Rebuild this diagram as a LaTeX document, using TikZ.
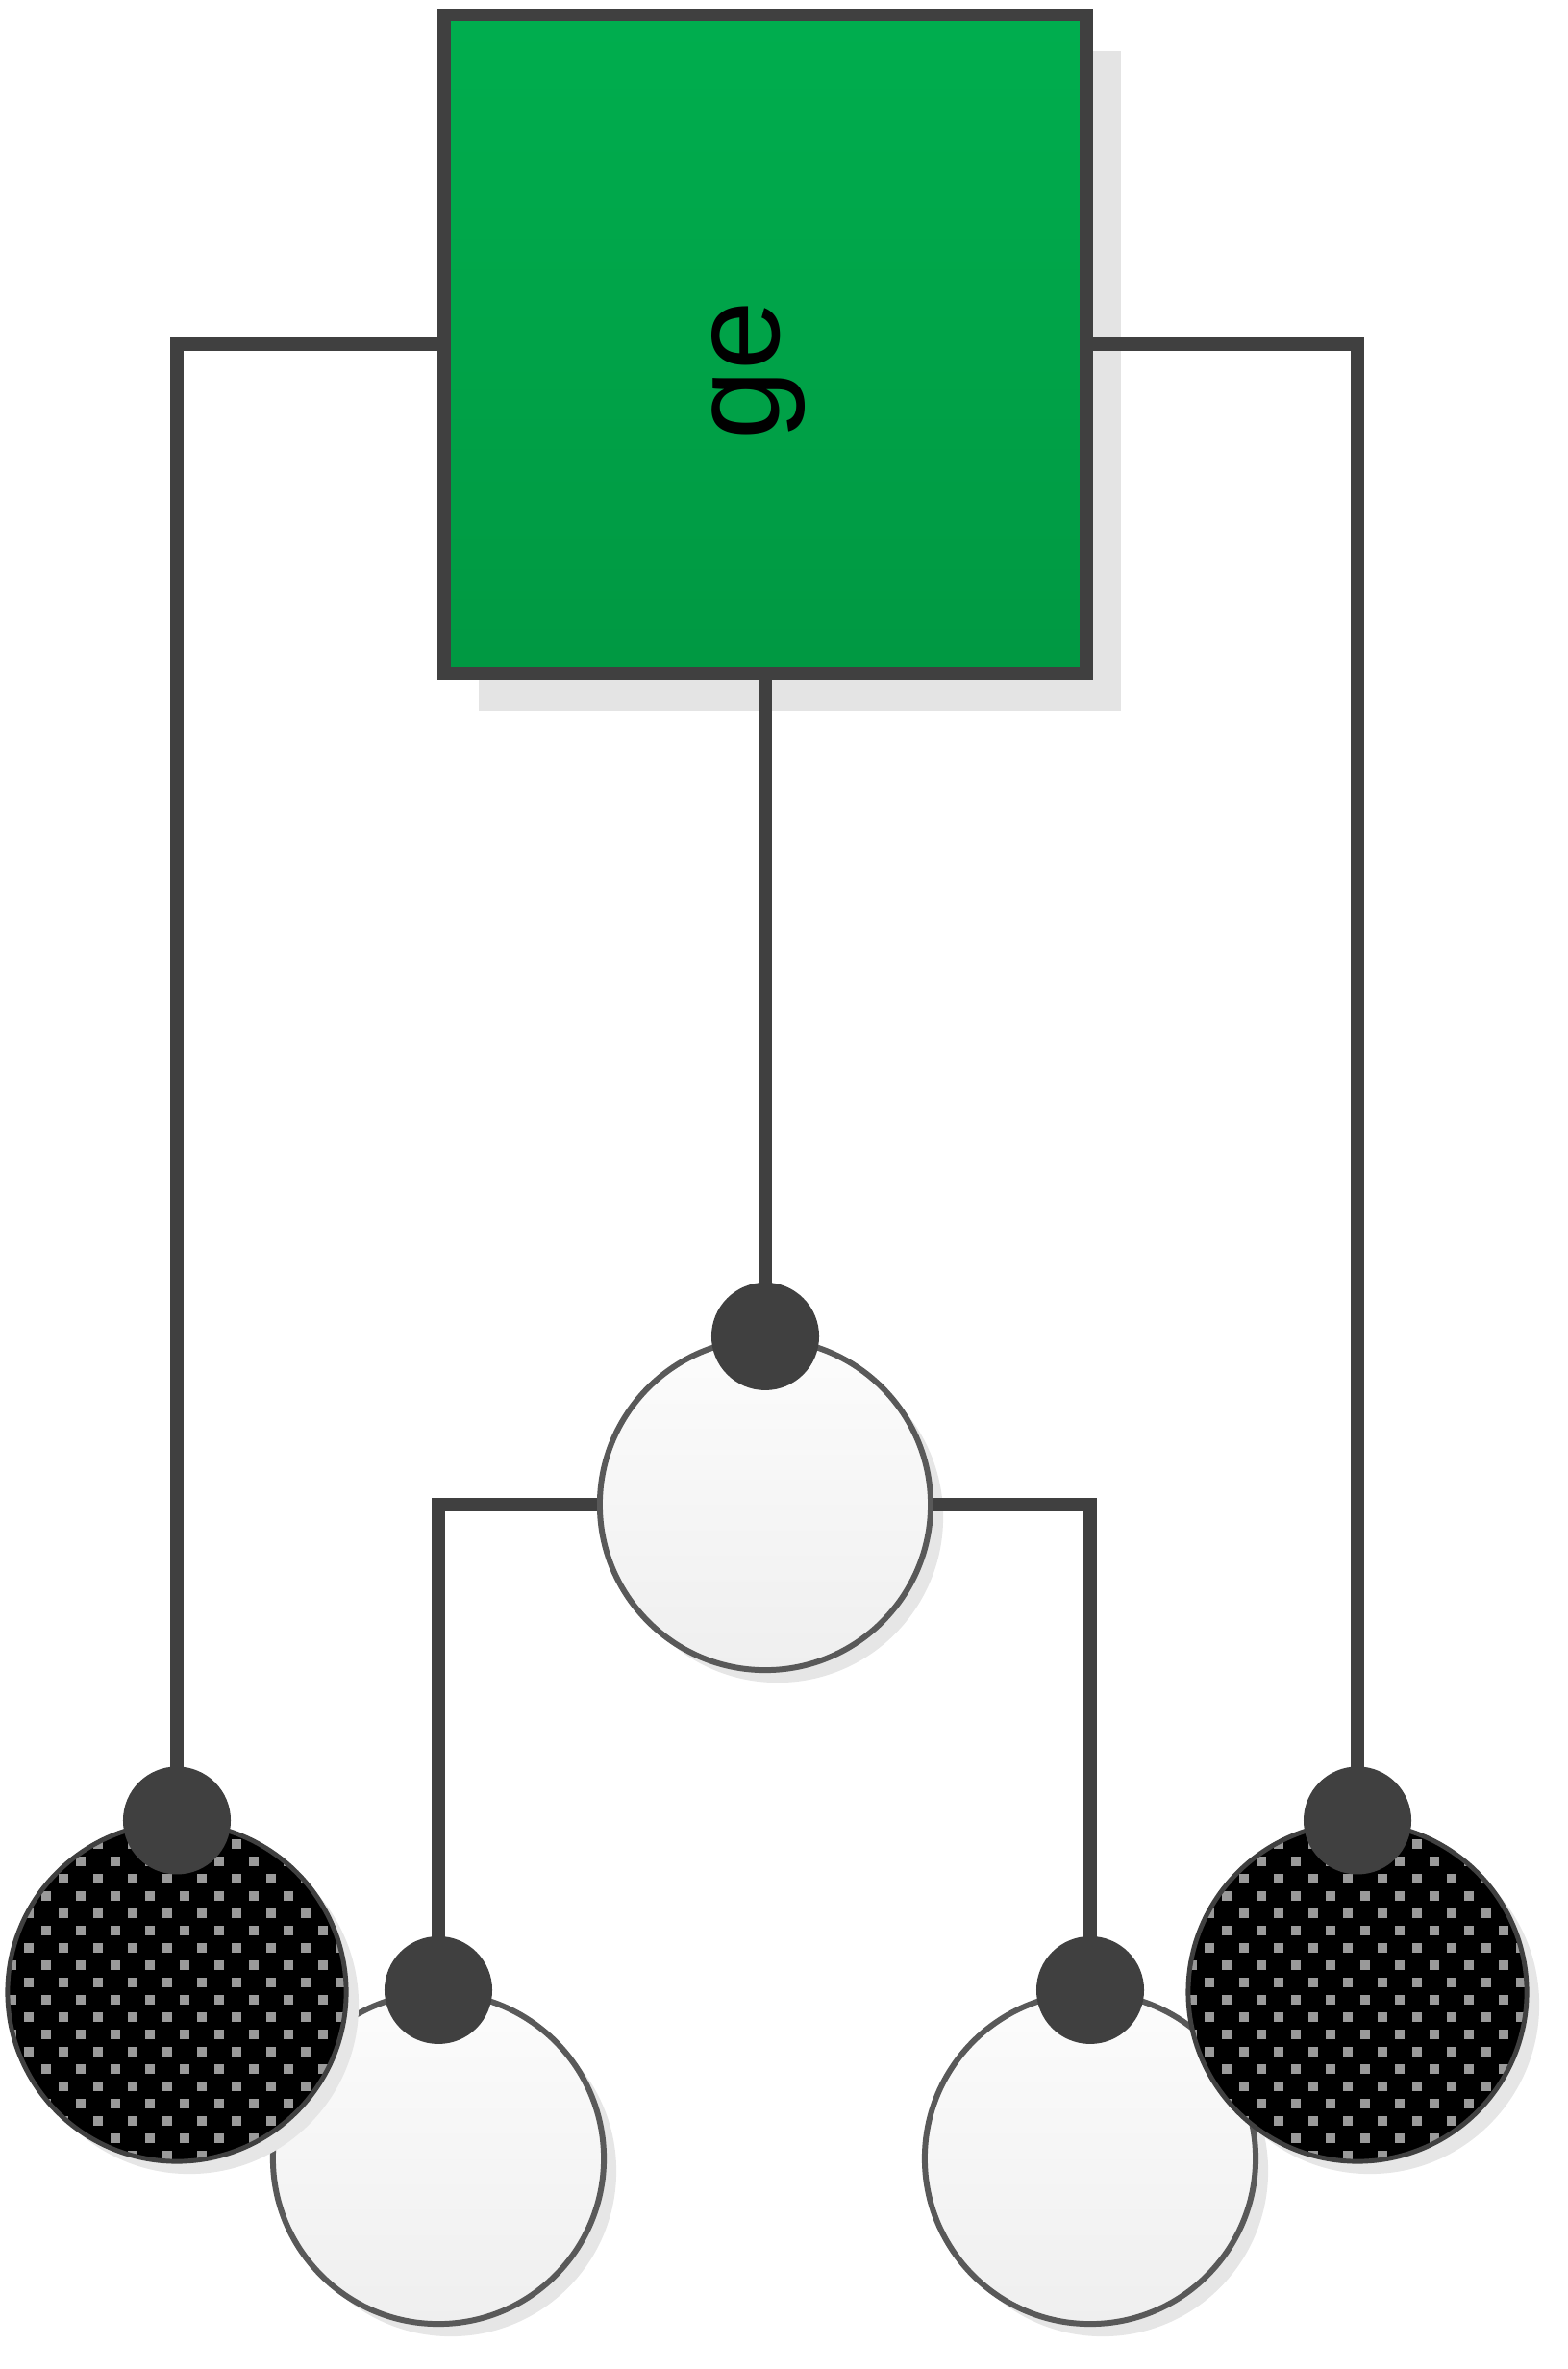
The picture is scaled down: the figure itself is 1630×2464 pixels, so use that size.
\documentclass[tikz,border=0pt]{standalone}
\usepackage{fontspec}
\setmainfont{Liberation Sans}
\usetikzlibrary{calc,shadows}
\definecolor{lineC}{HTML}{404040}
\definecolor{greenT}{RGB}{0,174,78}
\definecolor{greenB}{RGB}{0,152,66}
\definecolor{shadowC}{HTML}{E4E4E4}
\definecolor{circShadow}{HTML}{E6E6E6}
\definecolor{circTop}{HTML}{FCFCFC}
\definecolor{circBot}{HTML}{EFEFEF}
\definecolor{hatchDot}{HTML}{9A9A9A}
\begin{document}
\begin{tikzpicture}[x=0.01cm,y=-0.01cm,
  conn/.style={draw=lineC, line width=0.135cm},
  gebox/.style={rectangle, draw=lineC, line width=0.135cm, top color=greenT, bottom color=greenB,
    minimum width=6.68cm, minimum height=6.85cm, inner sep=0pt,
    drop shadow={shadow xshift=0.36cm, shadow yshift=-0.38cm, fill=shadowC, opacity=1}},
  whitec/.style={circle, inner sep=0pt, minimum size=3.44cm, draw=black!65, line width=1.7pt,
    top color=circTop, bottom color=circBot,
    drop shadow={shadow xshift=0.13cm, shadow yshift=-0.13cm, fill=circShadow, opacity=1}},
  hatchc/.style={circle, inner sep=0pt, minimum size=3.52cm, draw=black!75, line width=1.4pt, fill=black,
    drop shadow={shadow xshift=0.13cm, shadow yshift=-0.13cm, fill=circShadow, opacity=1},
    path picture={
      \foreach \j in {0,...,20}{
        \pgfmathtruncatemacro{\hoff}{mod(\j,2)*18}
        \foreach \i in {0,...,10}{
          \fill[hatchDot] ($(path picture bounding box.north west)+({\i*36+\hoff-1},{\j*18-1})$) rectangle ++(10,10);
        }
      }
    }},
  dotc/.style={circle, inner sep=0pt, minimum size=1.12cm, fill=lineC},
  lbl/.style={font=\fontsize{37}{40}\selectfont, text=black, inner sep=0pt}
]
\useasboundingbox (0,0) rectangle (1630,2464);
% main box
\node[gebox] (box) at (796,358) {};
\node[lbl, rotate=90] (label) at (789,385) {ge};
% circles
\node[whitec] (mid) at (796,1565) {};
\node[whitec] (wl) at (456,2245) {};
\node[whitec] (wr) at (1134,2245) {};
\node[hatchc] (hl) at (184,2072) {};
\node[hatchc] (hr) at (1412,2072) {};
% connectors
\draw[conn] (box.west) -| (hl.north);
\draw[conn] (box.east) -| (hr.north);
\draw[conn] (box.south) -- (mid.north);
\draw[conn] (mid.west) -| (wl.north);
\draw[conn] (mid.east) -| (wr.north);
% dots
\node[dotc] (dm) at (mid.north) {};
\node[dotc] (dwl) at (wl.north) {};
\node[dotc] (dwr) at (wr.north) {};
\node[dotc] (dhl) at (hl.north) {};
\node[dotc] (dhr) at (hr.north) {};
\end{tikzpicture}
\end{document}
